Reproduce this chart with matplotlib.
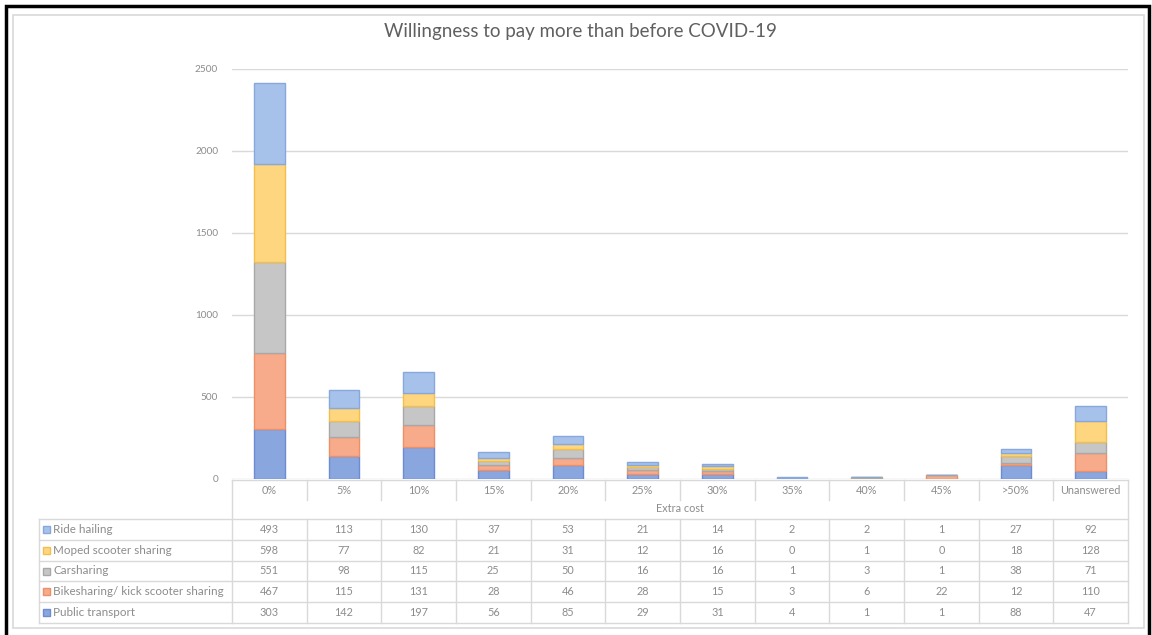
import matplotlib.pyplot as plt
import matplotlib.transforms as mtransforms
import numpy as np

plt.rcParams['font.family'] = ['Lato', 'DejaVu Sans']

# datos del grafico
categorias = ["0%", "5%", "10%", "15%", "20%", "25%", "30%", "35%", "40%", "45%", ">50%", "Unanswered"]
ride_hailing = [493, 113, 130, 37, 53, 21, 14, 2, 2, 1, 27, 92]
moped = [598, 77, 82, 21, 31, 12, 16, 0, 1, 0, 18, 128]
carsharing = [551, 98, 115, 25, 50, 16, 16, 1, 3, 1, 38, 71]
bikesharing = [467, 115, 131, 28, 46, 28, 15, 3, 6, 22, 12, 110]
public_transport = [303, 142, 197, 56, 85, 29, 31, 4, 1, 1, 88, 47]

nombres = ["Ride hailing", "Moped scooter sharing", "Carsharing",
           "Bikesharing/ kick scooter sharing", "Public transport"]
series = [ride_hailing, moped, carsharing, bikesharing, public_transport]
colores = ["#a7c2ea", "#ffd680", "#c6c6c6", "#f7ab8a", "#8aa6df"]
bordes = ["#86a8dc", "#f2c04a", "#a8a8a8", "#ec9068", "#6d8cd2"]

W, H = 1152, 635
fig = plt.figure(figsize=(W / 100, H / 100), dpi=100)

# capa de fondo en pixeles
ov = fig.add_axes([0, 0, 1, 1], zorder=0)
ov.set_xlim(0, W)
ov.set_ylim(H, 0)
ov.axis("off")

# ejes de barras
x0, x1, ytop, ybot = 232, 1128, 69, 479
ax = fig.add_axes([x0 / W, (H - ybot) / H, (x1 - x0) / W, (ybot - ytop) / H], zorder=1)
ax.patch.set_alpha(0)
n = len(categorias)
x = np.arange(n)
base = np.zeros(n)
# apilar de abajo hacia arriba: transporte publico primero
for i in range(len(series) - 1, -1, -1):
    vals = np.array(series[i])
    ax.bar(x, vals, 0.41, bottom=base, color=colores[i], edgecolor=bordes[i], linewidth=1, zorder=3)
    base = base + vals

ax.set_xlim(-0.5, n - 0.5)
ax.set_ylim(0, 2500)
ax.set_yticks(range(0, 2501, 500))
ax.set_xticks([])
ax.tick_params(axis="y", length=0, pad=10, labelsize=7.2, labelcolor="#8c8c8c")
ax.grid(axis="y", color="#d9d9d9", linewidth=1, zorder=0)
for s in ax.spines.values():
    s.set_visible(False)

# tabla de datos
tr = mtransforms.blended_transform_factory(ax.transData, ov.transData)
linea = "#d9d9d9"
fila_top = 519
alto = 20.8
fila_bot = fila_top + alto * 5
gris = "#8c8c8c"

ov.plot([x0, x1], [480, 480], color=linea, lw=1)
ov.plot([39, x1], [fila_top, fila_top], color=linea, lw=1)
for r in range(1, 6):
    yy = fila_top + alto * r
    ov.plot([39, x1], [yy, yy], color=linea, lw=1)
ov.plot([39, 39], [fila_top, fila_bot], color=linea, lw=1)
ov.plot([x0, x0], [480, fila_bot], color=linea, lw=1)
ov.plot([x1, x1], [480, fila_bot], color=linea, lw=1)
for i in range(n - 1):
    ov.plot([i + 0.5, i + 0.5], [480, 500], color=linea, lw=1, transform=tr)
    ov.plot([i + 0.5, i + 0.5], [fila_top, fila_bot], color=linea, lw=1, transform=tr)

for i, c in enumerate(categorias):
    ov.text(i, 490, c, transform=tr, ha="center", va="center", fontsize=7.8, color=gris)
ov.text(680, 509, "Extra cost", ha="center", va="center", fontsize=7.8, color=gris)

for r, (nombre, vals) in enumerate(zip(nombres, series)):
    yc = fila_top + alto * (r + 0.5)
    ov.add_patch(plt.Rectangle((43, yc - 3.5), 7, 7, facecolor=colores[r], edgecolor=bordes[r], lw=1))
    ov.text(53, yc, nombre, ha="left", va="center", fontsize=8.4, color=gris)
    for i, v in enumerate(vals):
        ov.text(i, yc, str(v), transform=tr, ha="center", va="center", fontsize=7.8, color=gris)

# titulo
ov.text(580, 32, "Willingness to pay more than before COVID-19", ha="center", va="center",
        fontsize=13.5, color="#606060")

# marcos
ov.add_patch(plt.Rectangle((13, 15), 1131, 613, fill=False, edgecolor="#d9d9d9", lw=1.2))
ov.plot([6, 6, 1149, 1149], [H, 6, 6, H], color="black", lw=2.5, solid_joinstyle="miter")

fig.savefig("out.png", dpi=100)
